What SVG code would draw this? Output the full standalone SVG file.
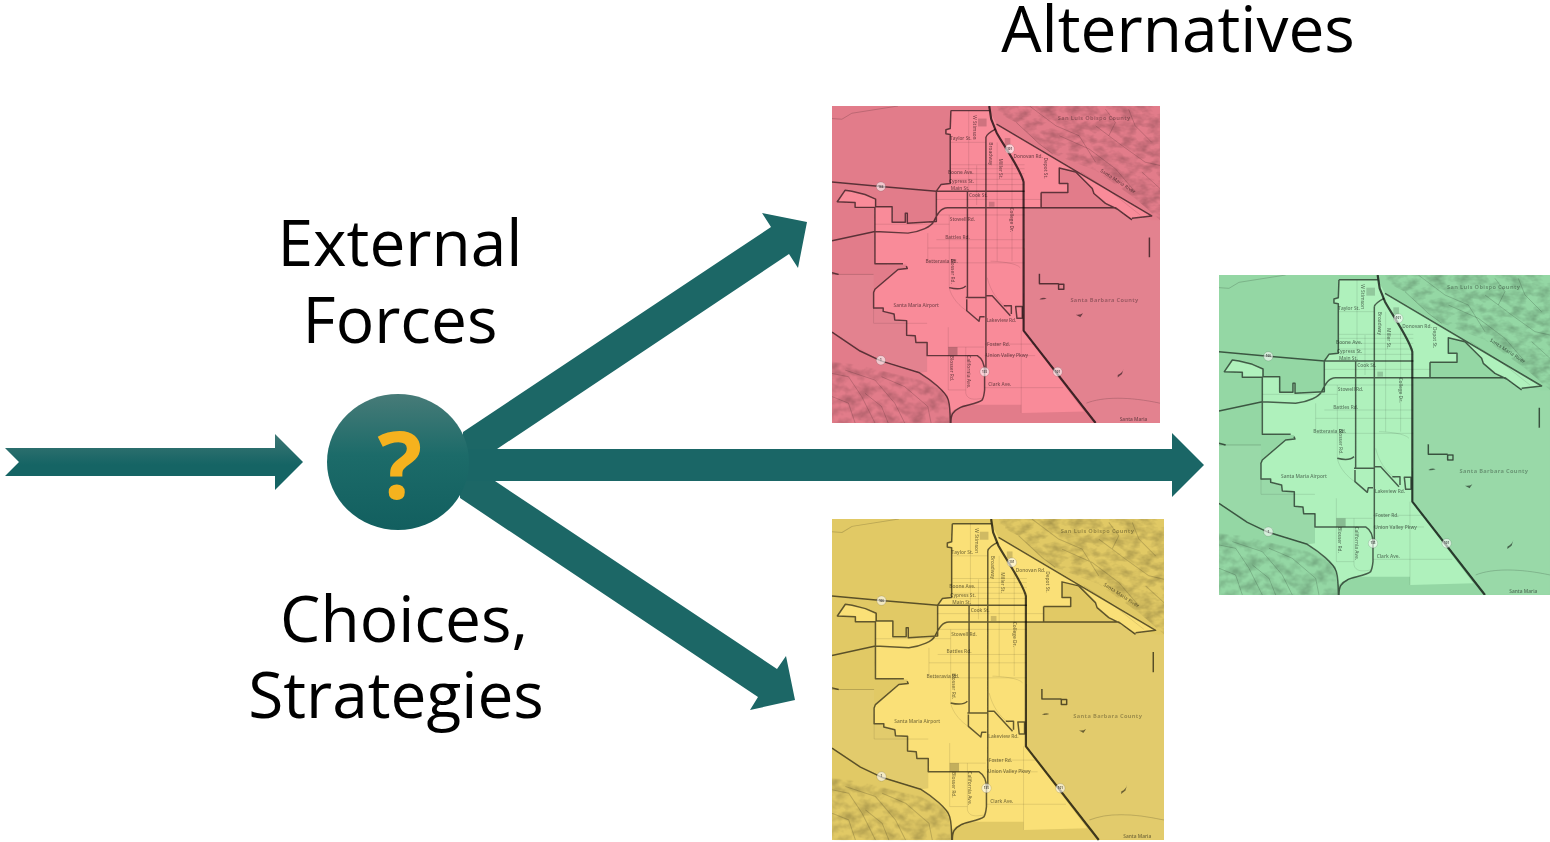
<svg xmlns="http://www.w3.org/2000/svg" width="1550" height="842" viewBox="0 0 1550 842">
<style>
.lbl{font-family:"Open Sans","Noto Sans",sans-serif;font-size:64px;fill:#000;text-anchor:middle}
.m{font-family:"Open Sans","Noto Sans",sans-serif;font-size:14.5px;font-weight:600;fill:#000;fill-opacity:.5;text-anchor:middle}
.big{font-size:17px;font-weight:700;letter-spacing:1px;fill-opacity:.32}
.t{fill:none;stroke:#000;stroke-opacity:.17;stroke-width:3}
.g{fill:none;stroke:#000;stroke-opacity:.15;stroke-width:2}
.r{fill:none;stroke:#000;stroke-opacity:.6;stroke-width:4.5;stroke-linejoin:round}
.h{fill:none;stroke:#000;stroke-opacity:.72;stroke-width:6.5;stroke-linejoin:round}
.arrow{fill:#1c6766}
.shield{fill:#fff;fill-opacity:.6;stroke:#000;stroke-opacity:.25;stroke-width:1.5}
.sn{font-family:"Open Sans",sans-serif;font-size:9px;font-weight:700;fill:#000;fill-opacity:.65;text-anchor:middle}
.gr{fill:#000;fill-opacity:.17}
</style>
<defs>
<linearGradient id="gc" x1="0" y1="0" x2="0" y2="1"><stop offset="0" stop-color="#477b78"/><stop offset=".45" stop-color="#1c6b69"/><stop offset="1" stop-color="#125f5f"/></linearGradient>
<linearGradient id="ga" x1="0" y1="0" x2="0" y2="1"><stop offset="0" stop-color="#3d7674"/><stop offset=".55" stop-color="#156464"/><stop offset="1" stop-color="#156464"/></linearGradient>
<filter id="hill" x="0" y="0" width="1" height="1"><feTurbulence type="fractalNoise" baseFrequency=".025 .04" numOctaves="3" seed="7"/><feColorMatrix type="matrix" values="0 0 0 0 0 0 0 0 0 0 0 0 0 0 0 .45 0 0 0 -.17"/><feComposite in2="SourceAlpha" operator="in"/></filter>
<filter id="soft" x="-2%" y="-2%" width="104%" height="104%"><feGaussianBlur stdDeviation="1.8"/></filter>
<clipPath id="mc"><rect width="993" height="960"/></clipPath>
<g id="map">
<polygon fill="#fff" fill-opacity=".05" points="583,310 860,310 968,345 993,345 993,960 800,960 578,680"/>
<polygon fill="#fff" fill-opacity=".05" points="126,612 288,612 288,805 265,808 148,772 0,685 0,510 126,510"/>
<polygon fill="#000" filter="url(#hill)" points="498,20 558,50 628,115 668,145 798,195 918,280 993,345 993,0 498,0"/>
<polygon fill="#000" filter="url(#hill)" points="0,775 80,785 180,810 265,830 330,860 350,890 355,960 0,960"/>
<path class="t" d="M0 38L30 40 60 22 200 0M558 50L628 115 668 145M598 0L678 60 748 90 798 170M688 90L778 130 858 190 918 260M798 60L878 120 948 170 993 180M898 10L918 60 968 110M828 10L858 50 838 90M938 200L993 250M0 810L50 820 90 880 130 960M40 800L130 830 190 900 220 960M150 820L220 850 290 910 300 960M0 880L50 900 70 960M100 870L150 910 170 960M0 510H126M770 900C820 880 900 880 993 900"/>
<polygon fill="currentColor" points="360,14 476,14 498,55 968,333 908,340 863,312 828,295 793,265 788,250 738,200 688,188 688,235 714,235 714,262 633,262 633,308 583,308 578,680 763,925 573,930 573,905 455,905 400,905 370,920 358,930 350,875 265,808 288,805 288,756 288,716 254,716 252,696 226,694 226,650 190,648 188,630 155,622 155,614 126,612 126,565 130,555 200,495 228,492 225,480 128,478 130,307 70,307 70,292 16,290 40,255 60,258 100,268 132,282 132,305 182,305 182,352 222,352 222,325 228,325 228,355 316,350 316,258 330,238 358,235 358,86 345,84 345,72 358,68"/>
<path class="g" d="M360 110H465M360 178H583M360 190H583M360 205H583M360 222H583M360 238H583M316 283H633M316 330H583M130 358H355M316 405H583M290 430H583M290 475H583M414 14V258M438 180V300M500 110V470M545 160V470M355 330V550C360 580 390 610 408 620M290 385V470M126 612V658H288M352 670V860H405M352 730H460M405 730V870C410 890 430 890 455 885M462 721H610M462 756H615M462 853H700M573 680V930M480 470C500 470 560 475 570 490M470 520C480 560 500 590 530 610M132 282V305M753 200L838 255 933 330"/>
<path class="r" d="M360 14H476M360 14L358 68 345 72V84L358 86V235L330 238 316 258V350L228 355V325H222V352H182V305H132V282L100 268 60 258 40 255 16 290 70 292V307H130V478H215M225 485L228 492 200 495 130 555 126 565V612H155V622L188 630 190 648 226 650V694L252 696 254 716H288V756H440C455 765 462 780 462 805V860C460 880 455 890 455 890 440 903 400 905 385 915 365 925 360 935 360 960M0 230L148 244 316 258H583M0 408L130 380 230 385C270 380 300 365 308 350 320 325 330 308 350 308H858L908 345M633 262H714V235H688V188L738 200 788 250 793 265 828 295 863 312M498 55L968 333 908 340M633 262V308M410 258V580M355 550C375 555 395 555 405 545M405 580H465M408 585V620L445 652 448 638H462M465 575H485L540 635M520 605H543V630M556 607H576V643H560ZM0 685L85 742 148 772 265 808C300 830 345 865 352 890 358 910 358 930 358 960M0 505L20 510M628 508V538H686M686 540H702V555H686ZM961 398V458M466 95V800M466 95C468 85 480 78 495 70"/>
<path class="h" d="M476 0L482 40 498 80C520 120 570 190 580 230V680L798 960"/>
<path fill="#000" fill-opacity=".5" d="M628 585Q640 578 650 583 638 588 628 585ZM738 632Q750 634 760 628L752 640ZM865 815Q880 808 883 795L878 812 865 822Z"/>
<rect class="gr" x="442" y="38" width="26" height="24"/><rect class="gr" x="475" y="290" width="17" height="15"/><rect class="gr" x="523" y="97" width="17" height="21"/><rect x="352" y="730" width="28" height="25" fill="#000" fill-opacity=".22"/>
<text class="m big" x="794" y="42">San Luis Obispo County</text>
<text class="m" x="863" y="232" transform="rotate(33 863 232)">Santa Maria River</text>
<text class="m big" x="825" y="594">Santa Barbara County</text>
<text class="m" x="913" y="953" fill-opacity=".35">Santa Maria</text>
<text class="m" x="390" y="104">Taylor St.</text>
<text class="m" x="427" y="65" transform="rotate(90 427 65)">W Stimson</text>
<text class="m" x="476" y="145" transform="rotate(90 476 145)">Broadway</text>
<text class="m" x="594" y="158">Donovan Rd.</text>
<text class="m" x="505" y="190" transform="rotate(90 505 190)">Miller St.</text>
<text class="m" x="641" y="188" transform="rotate(90 641 188)">Depot St.</text>
<text class="m" x="390" y="206">Boone Ave.</text>
<text class="m" x="392" y="233">Cypress St.</text>
<text class="m" x="388" y="255">Main St.</text>
<text class="m" x="443" y="277">Cook St.</text>
<text class="m" x="395" y="349">Stowell Rd.</text>
<text class="m" x="380" y="402">Battles Rd.</text>
<text class="m" x="540" y="345" transform="rotate(90 540 345)">College Dr.</text>
<text class="m" x="332" y="475">Betteravia Rd.</text>
<text class="m" x="360" y="500" transform="rotate(90 360 500)">Blosser Rd.</text>
<text class="m" x="255" y="609">Santa Maria Airport</text>
<text class="m" x="513" y="655">Lakeview Rd.</text>
<text class="m" x="504" y="726">Foster Rd.</text>
<text class="m" x="530" y="761">Union Valley Pkwy</text>
<text class="m" x="508" y="848">Clark Ave.</text>
<text class="m" x="358" y="795" transform="rotate(90 358 795)">Blosser Rd.</text>
<text class="m" x="408" y="805" transform="rotate(90 408 805)">California Ave.</text>
<circle class="shield" cx="148" cy="244" r="14"/><text class="sn" x="148" y="247">166</text>
<circle class="shield" cx="148" cy="770" r="14"/><text class="sn" x="148" y="773">1</text>
<circle class="shield" cx="462" cy="805" r="14"/><text class="sn" x="462" y="808">135</text>
<circle class="shield" cx="538" cy="130" r="14"/><text class="sn" x="538" y="133">101</text>
<circle class="shield" cx="683" cy="805" r="14"/><text class="sn" x="683" y="808">101</text>
</g>
</defs>
<g id="connectors">
<polygon fill="url(#ga)" points="5,448 275,448 275,434 303,462 275,490 275,476 5,476 19,462"/>
<polygon class="arrow" points="463,432 771,227 762,213 807,222 798,268 789,254 497,449 463,465"/>
<polygon class="arrow" points="495,481 777,669 786,656 795,700 750,710 758,697 460,498 460,470"/>
<polygon fill="#1a6666" points="462,449 1172,449 1172,433 1204,465 1172,497 1172,481 462,481"/>
</g>
<g id="node-question">
<ellipse cx="398" cy="462" rx="71" ry="68" fill="url(#gc)"/>
<text x="400" y="499" font-family="'Open Sans',sans-serif" font-weight="700" font-size="94" fill="#f5b21e" text-anchor="middle">?</text>
</g>
<g id="label-external"><text class="lbl" x="400" y="266">External</text><text class="lbl" x="400" y="343">Forces</text></g>
<g id="label-choices"><text class="lbl" x="404" y="642">Choices,</text><text class="lbl" x="396" y="718">Strategies</text></g>
<g id="label-alternatives"><text class="lbl" x="1178" y="52">Alternatives</text></g>
<g id="node-map-red" color="#f98b99">
<rect x="832" y="106" width="328" height="317" fill="#e27c8a"/>
<g transform="translate(832 106) scale(.3303 .3302)" clip-path="url(#mc)"><g filter="url(#soft)"><use href="#map"/></g></g>
</g>
<g id="node-map-green" color="#aff1bc">
<rect x="1219" y="275" width="331" height="320" fill="#94d7a4"/>
<g transform="translate(1219 275) scale(.3333)" clip-path="url(#mc)"><g filter="url(#soft)"><use href="#map"/></g></g>
</g>
<g id="node-map-yellow" color="#fae077">
<rect x="832" y="519" width="332" height="321" fill="#e1c965"/>
<g transform="translate(832 519) scale(.3343 .3344)" clip-path="url(#mc)"><g filter="url(#soft)"><use href="#map"/></g></g>
</g>
</svg>
